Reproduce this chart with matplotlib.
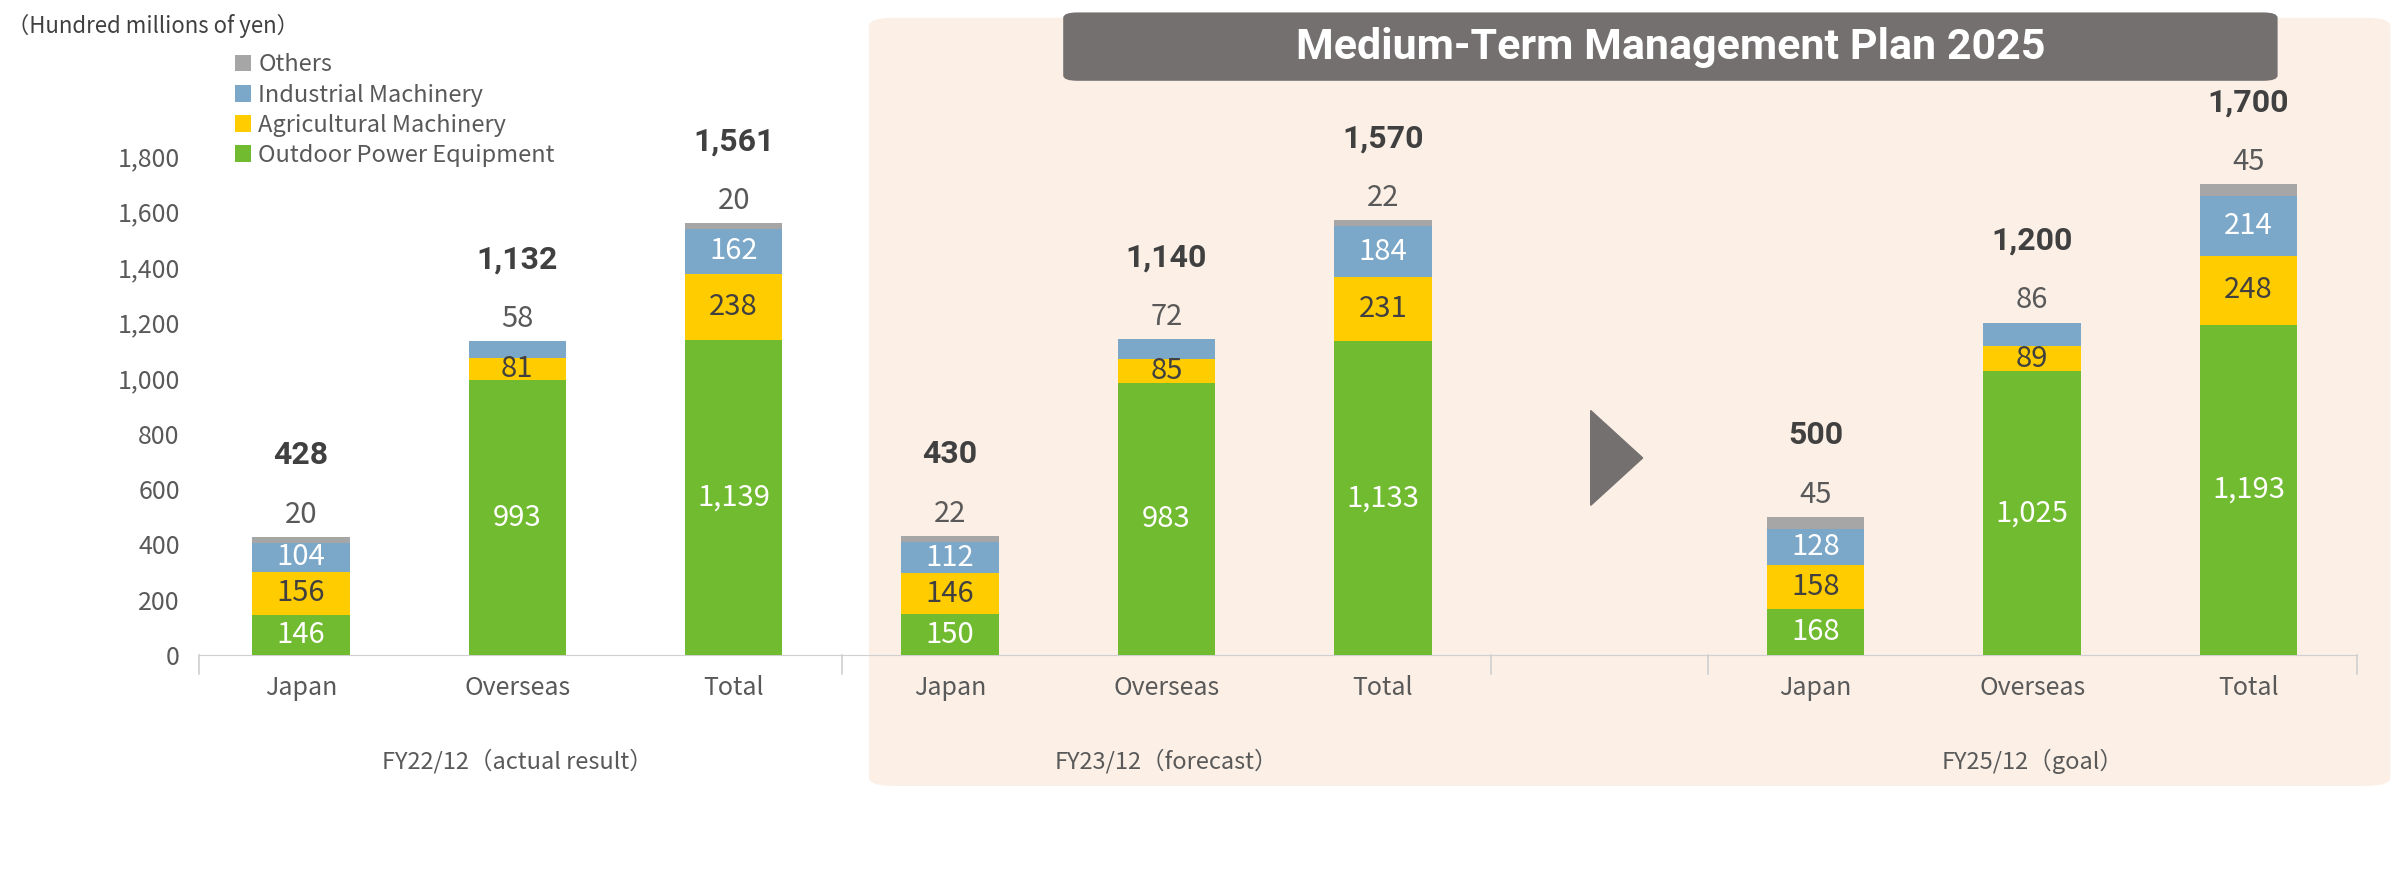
import matplotlib
matplotlib.use("Agg")
import matplotlib.pyplot as plt
from matplotlib.patches import FancyBboxPatch, Polygon
import matplotlib.transforms as mtrans

plt.rcParams["font.family"] = ["Noto Sans CJK JP", "DejaVu Sans"]

categories = ["Japan", "Overseas", "Total"] * 3
groups = ["FY22/12（actual result）", "FY23/12（forecast）", "FY25/12（goal）"]
positions = [0, 1, 2, 3, 4, 5, 7, 8, 9]
outdoor = [146, 993, 1139, 150, 983, 1133, 168, 1025, 1193]
agri = [156, 81, 238, 146, 85, 231, 158, 89, 248]
indus = [104, 58, 162, 112, 72, 184, 128, 86, 214]
others = [20, 0, 20, 22, 0, 22, 45, 0, 45]
totals = [428, 1132, 1561, 430, 1140, 1570, 500, 1200, 1700]
yticks = [0, 200, 400, 600, 800, 1000, 1200, 1400, 1600, 1800]

C_G, C_Y, C_B, C_O = "#70BB2F", "#FFCC00", "#7BA7C9", "#A6A6A6"
TXT = "#404040"

fig = plt.figure(figsize=(24, 8.88), dpi=100)
fig.patches.append(FancyBboxPatch((0.362, 0.115), 0.634, 0.865, boxstyle="round,pad=0,rounding_size=0.01",
                                  transform=fig.transFigure, facecolor="#FBEFE6", edgecolor="none", zorder=0))
fig.patches.append(FancyBboxPatch((0.443, 0.909), 0.506, 0.077, boxstyle="round,pad=0,rounding_size=0.006",
                                  transform=fig.transFigure, facecolor="#757070", edgecolor="none", zorder=1))
fig.text(0.696, 0.947, "Medium-Term Management Plan 2025", ha="center", va="center", color="white",
         fontsize=31, fontweight="bold", fontfamily="Roboto")

ax = fig.add_axes([0.083, 0.262, 0.899, 0.562])
ax.set_zorder(5)
ax.patch.set_alpha(0)
ax.set_xlim(-0.47, 9.5)
ax.set_ylim(0, 1800)
w = 0.45
b1 = ax.bar(positions, outdoor, w, color=C_G, label="Outdoor Power Equipment", zorder=3)
b2 = ax.bar(positions, agri, w, bottom=outdoor, color=C_Y, label="Agricultural Machinery", zorder=3)
bot3 = [a + b for a, b in zip(outdoor, agri)]
b3 = ax.bar(positions, indus, w, bottom=bot3, color=C_B, label="Industrial Machinery", zorder=3)
bot4 = [a + b for a, b in zip(bot3, indus)]
b4 = ax.bar(positions, others, w, bottom=bot4, color=C_O, label="Others", zorder=3)

fs = 21
for i, x in enumerate(positions):
    top = bot4[i] + others[i]
    ax.text(x, outdoor[i] / 2, f"{outdoor[i]:,}", ha="center", va="center", color="white", fontsize=fs, zorder=4)
    ax.text(x, outdoor[i] + agri[i] / 2, f"{agri[i]:,}", ha="center", va="center", color=TXT, fontsize=fs, zorder=4)
    if others[i] > 0:
        ax.text(x, bot3[i] + indus[i] / 2, f"{indus[i]:,}", ha="center", va="center", color="white", fontsize=fs, zorder=4)
        ax.text(x, top + 80, f"{others[i]:,}", ha="center", va="center", color="#595959", fontsize=fs, zorder=4)
    else:
        ax.text(x, top + 80, f"{indus[i]:,}", ha="center", va="center", color="#595959", fontsize=fs, zorder=4)
    ax.text(x, top + 295, f"{totals[i]:,}", ha="center", va="center", color=TXT, fontsize=23,
            fontweight="bold", fontfamily="Roboto", zorder=4)

ax.add_patch(Polygon([[5.96, 883], [5.96, 541], [6.2, 712]], closed=True, color="#757070", zorder=3))

for s in ["top", "right", "left"]:
    ax.spines[s].set_visible(False)
ax.spines["bottom"].set_color("#D0D0D0")
ax.set_yticks(yticks)
ax.set_yticklabels([f"{v:,}" for v in yticks], fontsize=18, color="#595959")
ax.tick_params(axis="y", length=0, pad=14)
ax.set_xticks(positions)
ax.set_xticklabels(categories, fontsize=18, color="#595959")
ax.tick_params(axis="x", length=0, pad=14)

tr = mtrans.blended_transform_factory(ax.transData, ax.transAxes)
for xs in [-0.47, 2.5, 5.5, 6.5, 9.5]:
    ax.plot([xs, xs], [0, -0.037], transform=tr, color="#D0D0D0", lw=1.2, clip_on=False)
for gx, g in zip([1, 4, 8], groups):
    ax.text(gx, -0.212, g, transform=tr, ha="center", va="center", fontsize=17, color="#595959")

fig.text(0.003, 0.971, "（Hundred millions of yen）", ha="left", va="center", fontsize=16, color="#404040")
leg = ax.legend(handles=[b4, b3, b2, b1], loc="upper left", bbox_to_anchor=(0.012, 1.225), frameon=False,
                fontsize=17, handlelength=0.7, handleheight=0.7, handletextpad=0.3, labelspacing=0.3,
                labelcolor="#595959", borderaxespad=0)

fig.savefig("out.png", dpi=100)
